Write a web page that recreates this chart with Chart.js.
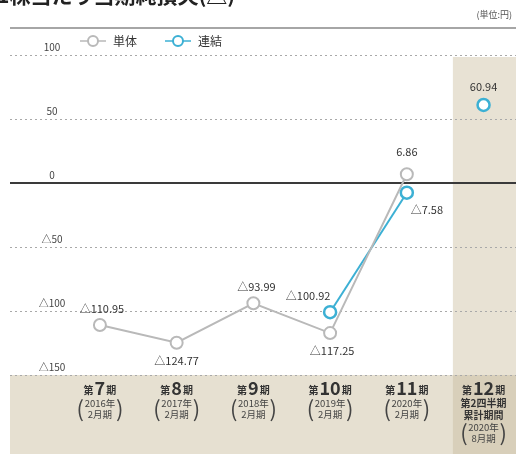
<!DOCTYPE html>
<html><head><meta charset="utf-8">
<script src="https://cdn.jsdelivr.net/npm/chart.js@4/dist/chart.umd.min.js"></script>
<style>html,body{margin:0;padding:0;background:#fff;}#wrap{width:516px;height:454px;position:relative;}</style>
</head><body><div id="wrap"><canvas id="c" width="516" height="454"></canvas></div>
<script>
const categories = ['第7期','第8期','第9期','第10期','第11期','第12期'];
const subLabels = [['2016年','2月期'],['2017年','2月期'],['2018年','2月期'],['2019年','2月期'],['2020年','2月期'],['2020年','8月期']];
const extraLabel12 = ['第2四半期','累計期間'];
const tanTai = [-110.95, -124.77, -93.99, -117.25, 6.86, null];
const renketsu = [null, null, null, -100.92, -7.58, 60.94];
const yTicks = [100, 50, 0, -50, -100, -150];
const seriesNames = ['単体','連結'];
const title = '1株当たり当期純損失(△)';
const unitLabel = '(単位:円)';

const fmt = v => v < 0 ? '△' + Math.abs(v).toFixed(2) : v.toFixed(2);
const tickFmt = v => v < 0 ? '△' + Math.abs(v) : String(v);
const FONT = '"Noto Sans CJK JP", "Noto Sans", sans-serif';
const GRAY = '#b9b9b9', CYAN = '#3cb0d4';

// label placements: [dx, dy] relative to point
const placeT = [[2,-16],[0,18],[3,-16],[2,18],[0,-22],null];
const placeR = [null,null,null,[-22,-16],[20,17],[0,-18]];
const seriesValues = [tanTai, renketsu];

const bgPlugin = {
  id:'bg',
  beforeDraw(chart){
    const {ctx, scales:{x,y}} = chart;
    ctx.save();
    const yb = y.getPixelForValue(-150), yt = y.getPixelForValue(100);
    ctx.fillStyle = '#e6e0d1';
    ctx.fillRect(10, yb, 506, 454 - yb);
    const x12 = x.getPixelForValue(4.6);
    ctx.fillStyle = '#e8e2d4';
    ctx.fillRect(x12, yt+2, 516-x12, yb-yt-2);
    ctx.fillStyle = '#d8cfba';
    ctx.fillRect(x12, yb, 516-x12, 454-yb);
    ctx.strokeStyle = '#a9a9a9'; ctx.lineWidth = 1; ctx.setLineDash([2,3]);
    yTicks.forEach(t => { if (t===0) return; const py = Math.round(y.getPixelForValue(t))+0.5;
      ctx.beginPath(); ctx.moveTo(10,py); ctx.lineTo(516,py); ctx.stroke(); });
    ctx.setLineDash([]);
    ctx.strokeStyle = '#3a3a3a'; ctx.lineWidth = 2;
    const z = Math.round(y.getPixelForValue(0));
    ctx.beginPath(); ctx.moveTo(10,z); ctx.lineTo(516,z); ctx.stroke();
    ctx.strokeStyle = '#888'; ctx.lineWidth = 1.5;
    ctx.beginPath(); ctx.moveTo(10,28); ctx.lineTo(516,28); ctx.stroke();
    ctx.fillStyle = '#222'; ctx.font = 'bold 21px ' + FONT; ctx.textBaseline='alphabetic'; ctx.textAlign='left';
    ctx.fillText(title, -3, 3);
    ctx.fillStyle = '#555'; ctx.font = '9px ' + FONT; ctx.textAlign='right';
    ctx.fillText(unitLabel, 512, 18);
    ctx.fillStyle = '#444'; ctx.font = '10px ' + FONT; ctx.textAlign='center'; ctx.textBaseline='bottom';
    yTicks.forEach(t => { ctx.fillText(tickFmt(t), 52, y.getPixelForValue(t)-3); });
    categories.forEach((c,i) => {
      const cx = x.getPixelForValue(i);
      const num = c.replace('第','').replace('期','');
      const top = 388;
      ctx.textBaseline='alphabetic';
      ctx.font = 'bold 18px ' + FONT; const wn = ctx.measureText(num).width;
      ctx.font = 'bold 10px ' + FONT; const ws = ctx.measureText('第').width;
      const total = ws*2 + wn + 2;
      let sx = cx - total/2;
      ctx.fillStyle = '#333'; ctx.textAlign='left';
      ctx.fillText('第', sx, top+6); sx += ws+1;
      ctx.font = 'bold 18px ' + FONT; ctx.fillText(num, sx, top+7); sx += wn+1;
      ctx.font = 'bold 10px ' + FONT; ctx.fillText('期', sx, top+6);
      let ly = top + 19;
      ctx.textAlign='center';
      if (i === 5) {
        ctx.font = 'bold 10px ' + FONT;
        extraLabel12.forEach(s => { ctx.fillText(s, cx, ly); ly += 12; });
      }
      ctx.font = '9.5px ' + FONT; ctx.fillStyle = '#444';
      ctx.fillText(subLabels[i][0], cx, ly);
      ctx.fillText(subLabels[i][1], cx, ly+11);
      ctx.font = '22px ' + FONT;
      ctx.textAlign='right'; ctx.fillText('(', cx-16, ly+10);
      ctx.textAlign='left'; ctx.fillText(')', cx+16, ly+10);
    });
    ctx.restore();
  },
  afterDatasetsDraw(chart){
    const {ctx} = chart;
    ctx.save();
    ctx.font = '11px ' + FONT; ctx.fillStyle = '#333'; ctx.textAlign='center'; ctx.textBaseline='middle';
    [[0,placeT],[1,placeR]].forEach(([di,pl]) => {
      const meta = chart.getDatasetMeta(di);
      seriesValues[di].forEach((v,i) => {
        if (v == null || !pl[i]) return;
        const el = meta.data[i];
        ctx.fillText(fmt(v), el.x + pl[i][0], el.y + pl[i][1]);
      });
    });
    const items = [[seriesNames[0], GRAY, 80], [seriesNames[1], CYAN, 165]];
    items.forEach(([n,col,lx]) => {
      const ly = 41;
      ctx.strokeStyle = col; ctx.lineWidth = 1.5;
      ctx.beginPath(); ctx.moveTo(lx, ly); ctx.lineTo(lx+26, ly); ctx.stroke();
      ctx.fillStyle = '#fff'; ctx.lineWidth = 2;
      ctx.beginPath(); ctx.arc(lx+13, ly, 5, 0, Math.PI*2); ctx.fill(); ctx.stroke();
      ctx.fillStyle = '#333'; ctx.font = '12px ' + FONT; ctx.textAlign='left';
      ctx.fillText(n, lx+33, ly);
    });
    ctx.restore();
  }
};

new Chart(document.getElementById('c'), {
  type:'line',
  data:{
    labels: categories,
    datasets:[
      {label:seriesNames[0], data: tanTai.map((v,i)=>({x:i,y:v})), borderColor:GRAY, borderWidth:2,
       pointRadius:6, pointBackgroundColor:'#fff', pointBorderColor:GRAY, pointBorderWidth:2, spanGaps:false},
      {label:seriesNames[1], data: renketsu.map((v,i)=>({x:i,y:v})), borderColor:CYAN, borderWidth:2,
       pointRadius:6, pointBackgroundColor:'#fff', pointBorderColor:CYAN, pointBorderWidth:2.5, spanGaps:false,
       segment:{borderColor: c => c.p1DataIndex === 5 ? 'rgba(0,0,0,0)' : undefined}}
    ]
  },
  options:{
    responsive:false, animation:false, devicePixelRatio:1,
    layout:{padding:{left:10,right:0,top:55,bottom:79}},
    plugins:{legend:{display:false}, tooltip:{enabled:false}},
    scales:{
      x:{type:'linear', min:-1.172, max:5.312, display:false},
      y:{min:-150, max:100, display:false}
    }
  },
  plugins:[bgPlugin]
});
</script></body></html>
